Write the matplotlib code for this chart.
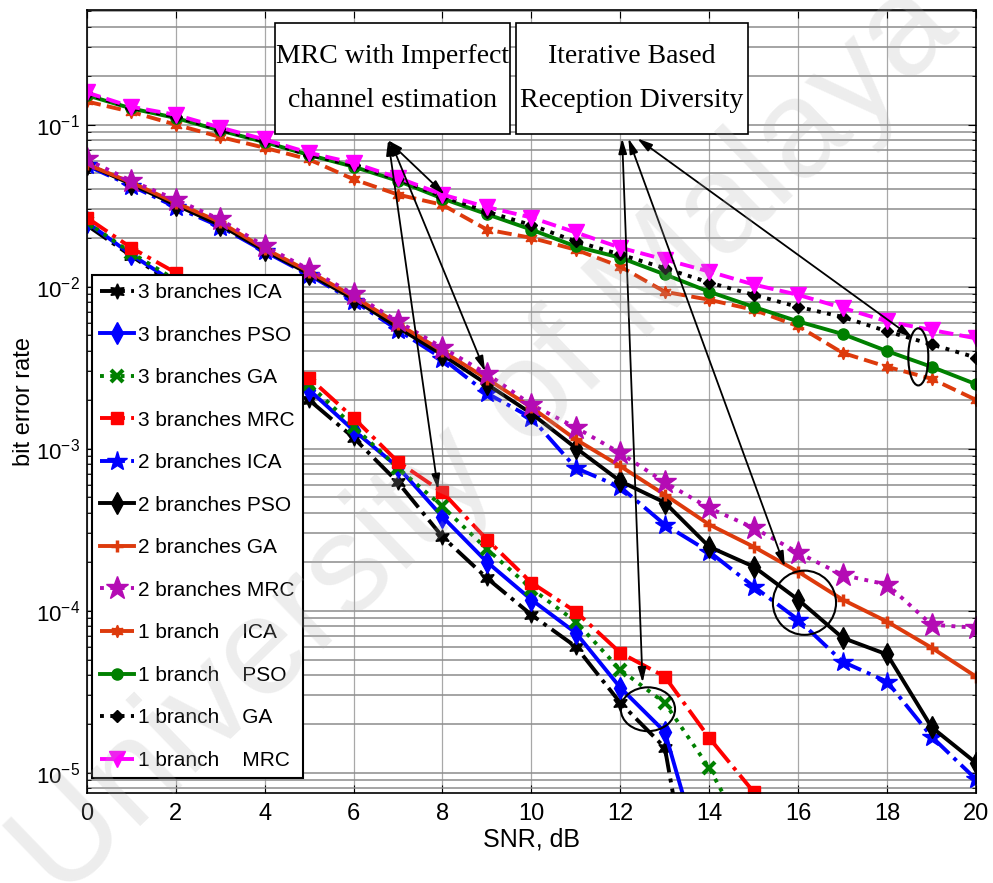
import matplotlib
matplotlib.use('Agg')
import matplotlib.pyplot as plt
from matplotlib.patches import Ellipse, Rectangle
import numpy as np

plt.rcParams['font.family'] = ['Liberation Sans', 'DejaVu Sans']
plt.rcParams['mathtext.default'] = 'regular'

snr = list(range(0, 21))

# 3 branches (curves drop off the bottom of the axes)
ber_3_ica = [0.024, 0.0155, 0.0102, 0.0062, 0.0035, 0.0020, 0.00117, 0.00062, 0.000286, 0.000159,
             0.0000944, 0.00006, 0.000027, 0.0000143, 0.0000004]
ber_3_pso = [0.025, 0.0158, 0.0105, 0.0065, 0.0038, 0.00231, 0.0013, 0.00077, 0.00038, 0.0002,
             0.000117, 0.000073, 0.0000335, 0.0000179, 0.000002]
ber_3_ga = [0.025, 0.0162, 0.011, 0.0068, 0.0041, 0.0025, 0.00137, 0.00076, 0.00044, 0.00024,
            0.000137, 0.0000855, 0.0000432, 0.000027, 0.0000107, 0.0000033]
ber_3_mrc = [0.0267, 0.0174, 0.0122, 0.0075, 0.0045, 0.00274, 0.00155, 0.00083, 0.00054, 0.000275,
             0.000149, 0.0000986, 0.000055, 0.0000392, 0.0000164, 0.0000076]

# 2 branches
ber_2_ica = [0.056, 0.042, 0.031, 0.0235, 0.0165, 0.0118, 0.0082, 0.0054, 0.0036, 0.0022,
             0.00155, 0.00076, 0.00058, 0.00034, 0.000231, 0.000141, 0.000088, 0.0000484, 0.0000365,
             0.0000167, 0.0000091]
ber_2_pso = [0.057, 0.043, 0.032, 0.024, 0.0168, 0.012, 0.0084, 0.0056, 0.0038, 0.0025,
             0.00165, 0.00101, 0.00063, 0.000465, 0.000248, 0.000187, 0.000117, 0.000068, 0.0000537,
             0.0000191, 0.0000115]
ber_2_ga = [0.057, 0.044, 0.033, 0.025, 0.0172, 0.0124, 0.0087, 0.0059, 0.0040, 0.0027,
            0.0018, 0.00114, 0.00078, 0.00052, 0.00034, 0.000248, 0.000174, 0.000117, 0.0000856,
            0.0000591, 0.0000392]
ber_2_mrc = [0.061, 0.045, 0.0345, 0.026, 0.0178, 0.0128, 0.0090, 0.0061, 0.0042, 0.0029,
             0.00187, 0.00135, 0.00094, 0.00062, 0.00043, 0.000325, 0.000228, 0.000166, 0.000145,
             0.000082, 0.0000785]

# 1 branch
ber_1_ica = [0.139, 0.120, 0.100, 0.084, 0.072, 0.061, 0.046, 0.037, 0.032, 0.0225,
             0.020, 0.0169, 0.0133, 0.0093, 0.0083, 0.0072, 0.0057, 0.0039, 0.0032, 0.0027, 0.0020]
ber_1_pso = [0.152, 0.126, 0.110, 0.092, 0.078, 0.065, 0.055, 0.045, 0.035, 0.028,
             0.0225, 0.0177, 0.0151, 0.0119, 0.0093, 0.0075, 0.0061, 0.0051, 0.0040, 0.0032, 0.0025]
ber_1_ga = [0.155, 0.127, 0.112, 0.093, 0.079, 0.065, 0.056, 0.046, 0.036, 0.029,
            0.024, 0.019, 0.0158, 0.0130, 0.0106, 0.0089, 0.0075, 0.0065, 0.0053, 0.0044, 0.00365]
ber_1_mrc = [0.158, 0.129, 0.115, 0.096, 0.081, 0.067, 0.058, 0.047, 0.037, 0.031,
             0.0267, 0.0216, 0.0174, 0.0147, 0.0124, 0.0103, 0.0089, 0.0074, 0.0061, 0.0054, 0.0048]

orange = '#dd3a0c'
purple = '#b40bb4'

fig = plt.figure(figsize=(9.93, 8.83), dpi=100)
ax = fig.add_axes([0.0873, 0.1019, 0.8957, 0.8868])

lw = 2.8
series = [
    (ber_3_ica, '3 branches ICA', dict(color='k', ls='-.', marker=(6, 1, 0), ms=11)),
    (ber_3_pso, '3 branches PSO', dict(color='#0000ff', ls='-', marker='d', ms=11)),
    (ber_3_ga, '3 branches GA', dict(color='#008000', ls=':', marker='x', ms=8, mew=3)),
    (ber_3_mrc, '3 branches MRC', dict(color='#ff0000', ls='-.', marker='s', ms=9)),
    (ber_2_ica, '2 branches ICA', dict(color='#0000ff', ls='-.', marker='*', ms=15)),
    (ber_2_pso, '2 branches PSO', dict(color='k', ls='-', marker='d', ms=11)),
    (ber_2_ga, '2 branches GA', dict(color=orange, ls='-', marker='+', ms=9, mew=2.5)),
    (ber_2_mrc, '2 branches MRC', dict(color=purple, ls=':', marker='*', ms=17)),
    (ber_1_ica, '1 branch    ICA', dict(color=orange, ls='--', marker=(6, 1, 0), ms=9)),
    (ber_1_pso, '1 branch    PSO', dict(color='#008000', ls='-', marker='o', ms=8)),
    (ber_1_ga, '1 branch    GA', dict(color='k', ls=':', marker='D', ms=6)),
    (ber_1_mrc, '1 branch    MRC', dict(color='#ff00ff', ls='--', marker='v', ms=12)),
]
for vals, label, style in series:
    ax.semilogy(snr[:len(vals)], vals, lw=lw, label=label, **style)

ax.set_xlim(0, 20)
ax.set_ylim(7.5e-6, 0.51)
ax.set_xticks(range(0, 21, 2))
ax.grid(True, which='major', axis='x', color='#a8a8a8', lw=0.9)
ax.grid(True, which='both', axis='y', color='#8c8c8c', lw=1.1)
ax.tick_params(which='both', direction='in', top=True, right=True)
ax.tick_params(axis='x', labelsize=17, pad=7)
ax.tick_params(axis='y', labelsize=16, pad=5)
ax.tick_params(which='major', length=6)
ax.tick_params(which='minor', length=3)
for s in ax.spines.values():
    s.set_linewidth(1.2)

ax.set_xlabel('SNR, dB', fontsize=18, labelpad=2)
ax.set_ylabel('bit error rate', fontsize=17)
ax.yaxis.set_label_coords(-0.058, 0.5)

leg = ax.legend(loc='upper left', bbox_to_anchor=(0.006, 0.662), fontsize=15,
                labelspacing=1.13, handlelength=1.6, handletextpad=0.2,
                borderpad=0.4, borderaxespad=0, fancybox=False, framealpha=1)
leg.get_frame().set_edgecolor('k')
leg.get_frame().set_linewidth(1.5)
leg.set_zorder(20)

# annotation boxes
boxes = [((0.2117, 0.8416), 0.2643, 'MRC with Imperfect\nchannel estimation'),
         ((0.4827, 0.8416), 0.2609, 'Iterative Based\nReception Diversity')]
for (bx, by), bw, txt in boxes:
    ax.add_patch(Rectangle((bx, by), bw, 0.1418, transform=ax.transAxes, facecolor='white',
                           edgecolor='k', lw=1.2, zorder=15))
    ax.text(bx + bw / 2, by + 0.071, txt, transform=ax.transAxes, ha='center', va='center',
            fontsize=20, family='Liberation Serif', linespacing=2.0, zorder=16)

arrow = dict(arrowstyle='<|-|>,head_length=0.9,head_width=0.25', color='k', lw=1.3,
             shrinkA=0, shrinkB=0)
for xy, start in [((8.05, 0.037), (0.338, 0.834)), ((8.96, 0.0030), (0.341, 0.834)),
                  ((7.9, 0.00056), (0.339, 0.834)), ((12.5, 3.6e-5), (0.602, 0.836)),
                  ((15.7, 1.87e-4), (0.609, 0.836)), ((18.57, 0.00484), (0.619, 0.836))]:
    ax.annotate('', xy=xy, xytext=start, textcoords='axes fraction', arrowprops=arrow, zorder=17)

for (cx, cy), w, h in [((0.935, 0.557), 0.0225, 0.073), ((0.807, 0.243), 0.071, 0.082),
                       ((0.631, 0.107), 0.061, 0.056)]:
    ax.add_patch(Ellipse((cx, cy), w, h, transform=ax.transAxes, fill=False, ec='k', lw=1.5,
                         zorder=14))

fig.text(0.49, 0.5, 'University of Malaya', rotation=44, fontsize=100, color='#b0b0b0',
         alpha=0.22, ha='center', va='center', zorder=30)

fig.savefig('out.png', dpi=100)
